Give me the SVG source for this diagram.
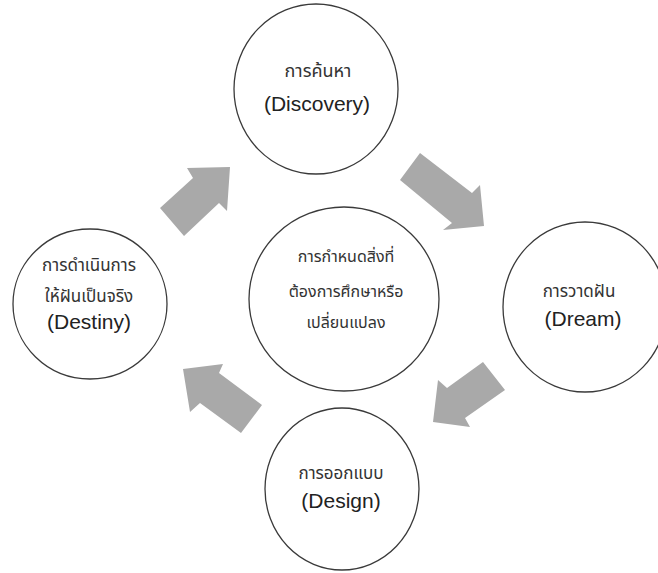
<svg xmlns="http://www.w3.org/2000/svg" width="658" height="573" viewBox="0 0 658 573">
<style>
.node{fill:#ffffff;stroke:#3a3a3a;stroke-width:1.3}
.arrow{fill:#a9a9a9;stroke:none}
.th{font-family:"Noto Sans Thai","Tahoma","Noto Sans","DejaVu Sans",sans-serif;font-size:17px;fill:#333;text-anchor:middle}
.thc{font-size:16px}
.en{font-family:"Liberation Sans","Arial",sans-serif;font-size:21px;fill:#222;text-anchor:middle}
</style>
<rect width="658" height="573" fill="#ffffff"/>
<g id="connectors">
<polygon class="arrow" points="160,208 193,178 187,168 230,167 227,211 219,203 184,236"/>
<polygon class="arrow" points="420,153 472,193 480,185 484,226 443,230 452,223 400,180"/>
<polygon class="arrow" points="483,362 505,390 465,418 470,427 433,422 438,380 447,388"/>
<polygon class="arrow" points="183,369 223,364 219,373 262,405 241,433 200,403 190,412"/>
</g>
<g id="discovery">
<ellipse class="node" cx="316" cy="89" rx="82" ry="85"/>
<text class="th" x="318" y="77" style="font-size:18px">การค้นหา</text>
<text class="en" x="317" y="111">(Discovery)</text>
</g>
<g id="dream">
<ellipse class="node" cx="585" cy="307" rx="82" ry="85"/>
<text class="th" x="579" y="297">การวาดฝัน</text>
<text class="en" x="583" y="326">(Dream)</text>
</g>
<g id="design">
<ellipse class="node" cx="342" cy="489" rx="77" ry="81"/>
<text class="th" x="341" y="479">การออกแบบ</text>
<text class="en" x="341" y="508">(Design)</text>
</g>
<g id="destiny">
<ellipse class="node" cx="90" cy="304" rx="77" ry="75"/>
<text class="th" x="89" y="271">การดำเนินการ</text>
<text class="th" x="89" y="302">ให้ฝันเป็นจริง</text>
<text class="en" x="89" y="329">(Destiny)</text>
</g>
<g id="center">
<ellipse class="node" cx="344" cy="299" rx="95" ry="92"/>
<text class="th thc" x="346" y="262">การกำหนดสิ่งที่</text>
<text class="th thc" x="346" y="297">ต้องการศึกษาหรือ</text>
<text class="th thc" x="346" y="328">เปลี่ยนแปลง</text>
</g>
</svg>
